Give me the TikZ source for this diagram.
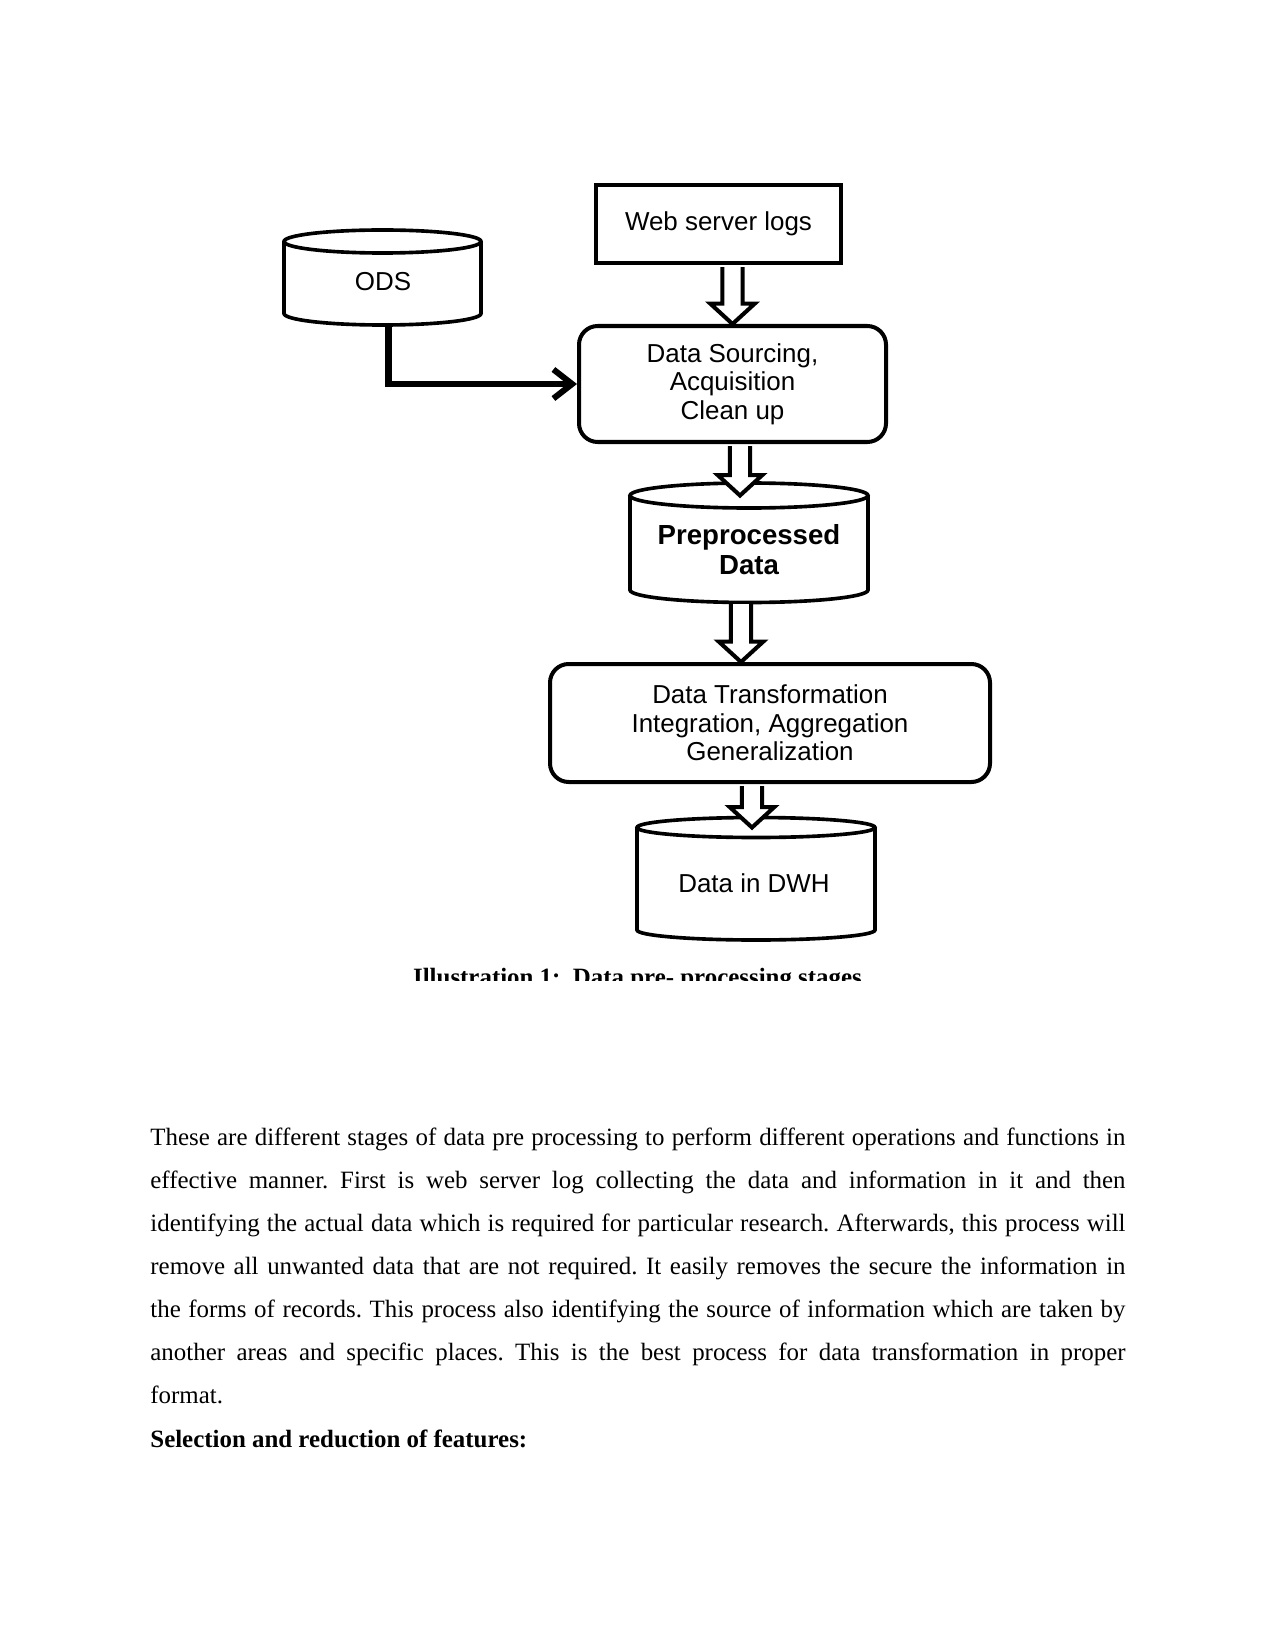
\documentclass[tikz,border=0pt]{standalone}
\usepackage{fontspec}
\setmainfont{Liberation Serif}
\newfontfamily\figfont{Liberation Sans}
\usetikzlibrary{arrows.meta,calc,backgrounds}
\newlength\tw
\setlength\tw{469.8pt}
% vertical hollow block arrow: #1 start point, #2 point giving the tip height
\newcommand\blockarrow[2]{%
  \draw[barrowsty] let \p1=(#1), \p2=(#2) in
    (\x1-4.9pt,\y1-1pt) -- (\x1-4.9pt,\y2+9.8pt) -- (\x1-10.7pt,\y2+9.8pt) -- (\x1,\y2)
    -- (\x1+10.7pt,\y2+9.8pt) -- (\x1+4.9pt,\y2+9.8pt) -- (\x1+4.9pt,\y1-1pt);}
% cylinder outline round a body node: #1 node name, #2 ellipse half height in px
\newcommand\cylshape[2]{%
  \draw[cylline] let \p1=($(#1.east)-(#1.west)$) in
    (#1.north west) -- (#1.south west)
    arc[start angle=180, end angle=360, x radius=0.5*\x1, y radius=#2*0.4818pt]
    -- (#1.north east);
  \draw[cylline] let \p1=($(#1.east)-(#1.west)$) in
    (#1.north) ellipse[x radius=0.5*\x1, y radius=#2*0.4818pt];}
\begin{document}
\begin{tikzpicture}[x=0.4818pt, y=-0.4818pt,
  figtxt/.style={font=\figfont\fontsize{12.5}{13.7}\selectfont, align=center, inner sep=0},
  sqbox/.style={figtxt, draw, fill=white, line width=1.93pt},
  rbox/.style={sqbox, rounded corners=9pt},
  cylbody/.style={inner sep=0, outer sep=0},
  cylline/.style={draw, fill=white, line width=1.75pt},
  conn/.style={line width=2.9pt, -{Straight Barb[length=9pt, width=14pt]}},
  barrowsty/.style={draw, fill=white, line width=1.95pt, line join=miter},
  bodyline/.style={anchor=base west, inner sep=0, font=\fontsize{12}{14.4}\selectfont\frenchspacing}]

\useasboundingbox (0,0) rectangle (1275,1651);

% boxes
\node[sqbox, minimum width=245*0.4818pt, minimum height=78*0.4818pt] (web) at (718.5,224) {Web server logs};
\node[rbox, minimum width=307*0.4818pt, minimum height=116*0.4818pt] (src) at (732.5,384)
  {Data Sourcing,\\Acquisition\\Clean up};
\node[rbox, minimum width=440*0.4818pt, minimum height=118*0.4818pt] (trans) at (770,723)
  {Data Transformation\\Integration, Aggregation\\Generalization};

% cylinder bodies and their texts
\node[cylbody, minimum width=197*0.4818pt, minimum height=72*0.4818pt] (ods) at (382.5,277.5) {};
\node[cylbody, minimum width=238*0.4818pt, minimum height=94.5*0.4818pt] (pre) at (749,542.75) {};
\node[cylbody, minimum width=238*0.4818pt, minimum height=102.5*0.4818pt] (dwh) at (756,878.75) {};
\node[figtxt] (odstxt) at (383,282) {ODS};
\node[figtxt, font=\figfont\bfseries\fontsize{13.3}{14.45}\selectfont] (pretxt) at (749,550) {Preprocessed\\Data};
\node[figtxt] (dwhtxt) at (754,883) {Data in DWH};

\begin{scope}[on background layer]
  \fill[white] (0,0) rectangle (1275,1651);
  \cylshape{ods}{11.5}
  \cylshape{pre}{12.5}
  \cylshape{dwh}{10}
\end{scope}

% connectors
\draw[conn] ($(ods.south)+(6,11)$) |- (src.west);
\blockarrow{src.north |- web.south}{src.north}
\blockarrow{$(src.south)+(7.5,0)$}{pre.north}
\blockarrow{$(pre.south)+(-8,12)$}{trans.north}
\blockarrow{$(trans.south)+(-18,0)$}{dwh.north}

% caption, cut off at the bottom of the figure
\begin{scope}
  \clip (0,0) rectangle (1275,980);
  \node[anchor=base, inner sep=0, font=\bfseries\fontsize{12}{14.4}\selectfont] (cap) at (637.5,985.5)
    {Illustration 1:\ \ Data pre- processing stages};
\end{scope}

% body text
\node[bodyline] (l1) at (150,1145) {\makebox[\tw][s]{These are different stages of data pre processing to perform different operations and functions in}};
\node[bodyline] (l2) at (150,1188) {\makebox[\tw][s]{effective manner. First is web server log collecting the data and information in it and then}};
\node[bodyline] (l3) at (150,1231) {\makebox[\tw][s]{identifying the actual data which is required for particular research. Afterwards, this process will}};
\node[bodyline] (l4) at (150,1274) {\makebox[\tw][s]{remove all unwanted data that are not required. It easily removes the secure the information in}};
\node[bodyline] (l5) at (150,1317) {\makebox[\tw][s]{the forms of records. This process also identifying the source of information which are taken by}};
\node[bodyline] (l6) at (150,1360) {\makebox[\tw][s]{another areas and specific places. This is the best process for data transformation in proper}};
\node[bodyline] (l7) at (150,1403) {format.};
\node[bodyline, font=\bfseries\fontsize{12}{14.4}\selectfont] (l8) at (150,1447) {Selection and reduction of features:};
\end{tikzpicture}
\end{document}
